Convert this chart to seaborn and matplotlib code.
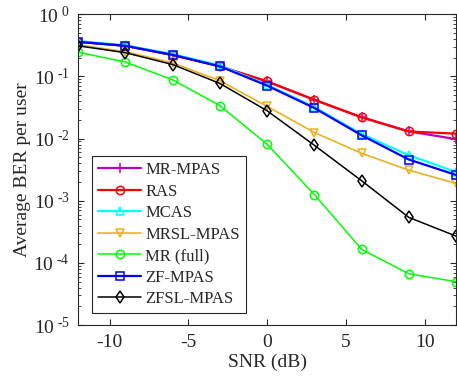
import numpy as np
import pandas as pd
import matplotlib
matplotlib.use("Agg")
import matplotlib.pyplot as plt
import seaborn as sns
from matplotlib.ticker import LogLocator, NullFormatter

sns.set_style("ticks")
plt.rcParams.update({
    "font.family": ["Liberation Serif", "DejaVu Serif"],
    "mathtext.fontset": "custom",
    "mathtext.rm": "Liberation Serif",
    "mathtext.it": "Liberation Serif",
    "axes.unicode_minus": False,
    "font.size": 14,
    "text.color": "#262626",
    "axes.labelcolor": "#262626",
    "xtick.color": "#262626",
    "ytick.color": "#262626",
    "xtick.direction": "in",
    "ytick.direction": "in",
})

snr = [-12, -9, -6, -3, 0, 3, 6, 9, 12]

mr_mpas = [0.36, 0.31, 0.22, 0.145, 0.083, 0.042, 0.022, 0.0130, 0.0098]
ras     = [0.36, 0.31, 0.22, 0.145, 0.083, 0.042, 0.022, 0.0130, 0.0120]
mcas    = [0.37, 0.315, 0.228, 0.15, 0.073, 0.032, 0.0118, 0.0054, 0.0029]
mrsl    = [0.32, 0.25, 0.165, 0.085, 0.033, 0.0125, 0.0058, 0.0031, 0.0019]
mr_full = [0.245, 0.17, 0.088, 0.034, 0.0081, 0.00126, 0.000166, 6.7e-5, 5.0e-5]
zf_mpas = [0.36, 0.31, 0.222, 0.145, 0.071, 0.031, 0.0113, 0.0046, 0.0026]
zfsl    = [0.31, 0.24, 0.155, 0.077, 0.028, 0.0078, 0.0021, 0.00054, 0.00027]

names = ["MR-MPAS", "RAS", "MCAS", "MRSL-MPAS", "MR (full)", "ZF-MPAS", "ZFSL-MPAS"]
series = [mr_mpas, ras, mcas, mrsl, mr_full, zf_mpas, zfsl]
colors = ["#bf00bf", "#ff0000", "#00ffff", "#edb120", "#00ff00", "#0000ff", "#000000"]
markers = ["+", "o", "^", "v", "o", "s", "d"]
widths = [1.6, 1.6, 1.6, 1.2, 1.1, 1.6, 1.1]
decades = [-5, -4, -3, -2, -1, 0]

df = pd.DataFrame({
    "SNR": np.tile(snr, len(names)),
    "BER": np.concatenate(series),
    "scheme": np.repeat(names, len(snr)),
})

fig = plt.figure(figsize=(4.57, 3.83), dpi=100)
ax = fig.add_axes([0.171, 0.151, 0.827, 0.812])

for name, col, mk, lw in zip(names, colors, markers, widths):
    sub = df[df["scheme"] == name]
    sns.lineplot(data=sub, x="SNR", y="BER", ax=ax, color=col, marker=mk,
                 markersize=6.5 if mk == "+" else 6, markerfacecolor="none",
                 markeredgecolor=col, markeredgewidth=1.1, linewidth=lw, label=name)

ax.set_yscale("log")
ax.set_xlim(-12, 12)
ax.set_ylim(1e-5, 1)
ax.set_xticks([-10, -5, 0, 5, 10])
ax.set_yticks([10.0 ** d for d in decades])
ax.set_yticklabels([r"$10^{\ \mathrm{%s}}$" % (str(d).replace("-", "\u2010")) for d in decades])
ax.yaxis.set_minor_locator(LogLocator(base=10, subs=np.arange(2, 10), numticks=20))
ax.yaxis.set_minor_formatter(NullFormatter())
ax.tick_params(which="both", top=True, right=True, direction="in")
ax.tick_params(which="major", length=4, pad=6)
ax.tick_params(which="minor", length=2)
for sp in ax.spines.values():
    sp.set_color("#262626")
    sp.set_linewidth(0.8)

ax.set_xlabel("SNR (dB)", labelpad=2)
ax.set_ylabel("Average BER per user", labelpad=2)

leg = ax.legend(loc="lower left", bbox_to_anchor=(0.037, 0.039), borderaxespad=0,
                fancybox=False, edgecolor="#262626", framealpha=1, fontsize=12,
                handlelength=2.6, borderpad=0.35, labelspacing=0.33,
                handletextpad=0.25)
leg.get_frame().set_linewidth(0.8)

fig.savefig("out.png", dpi=100)
